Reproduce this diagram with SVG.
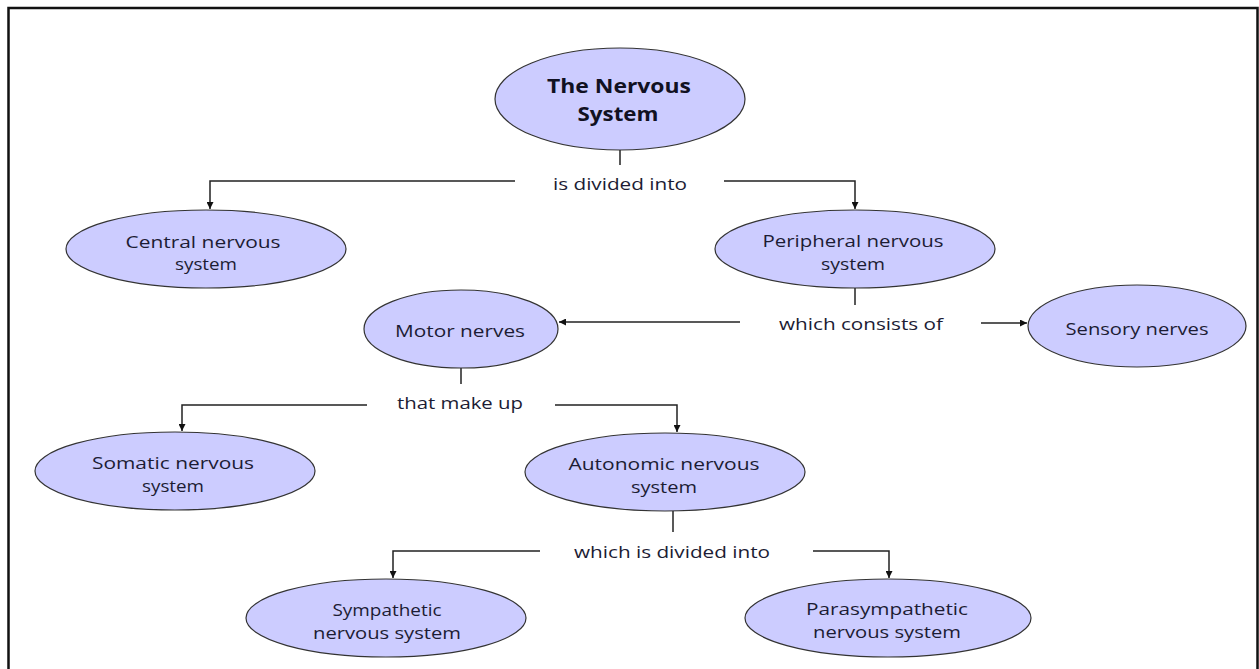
<svg xmlns="http://www.w3.org/2000/svg" width="1259" height="669" viewBox="0 0 1259 669">
<style>
.node ellipse{fill:#ccccff;stroke:#333333;stroke-width:1.2}
text{font-family:"Open Sans","Liberation Sans",sans-serif;font-size:16px;fill:#1c1c34;text-anchor:middle}
.title{font-weight:bold;font-size:20px;fill:#111122}
.conn path{fill:none;stroke:#222222;stroke-width:1.5}
</style>
<defs>
<marker id="arr" viewBox="0 0 10 10" refX="10" refY="5" markerWidth="7" markerHeight="7" orient="auto" markerUnits="userSpaceOnUse">
<path d="M0,0 L10,5 L0,10 Z" fill="#111111"/>
</marker>
</defs>
<rect x="8.5" y="8" width="1249" height="700" fill="#ffffff" stroke="#111111" stroke-width="2.5"/>
<g class="conn">
<path d="M620,150 V165"/>
<path d="M515,181 H210 V209" marker-end="url(#arr)"/>
<path d="M724,181 H855 V209" marker-end="url(#arr)"/>
<path d="M855,288 V305"/>
<path d="M740,322 H559" marker-end="url(#arr)"/>
<path d="M981,323 H1027" marker-end="url(#arr)"/>
<path d="M461,368 V384"/>
<path d="M367,405 H182 V431" marker-end="url(#arr)"/>
<path d="M555,405 H677 V432" marker-end="url(#arr)"/>
<path d="M673,511 V532"/>
<path d="M540,551 H393 V578" marker-end="url(#arr)"/>
<path d="M813,551 H889 V578" marker-end="url(#arr)"/>
</g>
<g id="labels">
<text x="620" y="190" textLength="134" lengthAdjust="spacingAndGlyphs">is divided into</text>
<text x="861" y="330" textLength="164" lengthAdjust="spacingAndGlyphs">which consists of</text>
<text x="460" y="409" textLength="126" lengthAdjust="spacingAndGlyphs">that make up</text>
<text x="672" y="558" textLength="196" lengthAdjust="spacingAndGlyphs">which is divided into</text>
</g>
<g id="nervous-system" class="node">
<ellipse cx="620" cy="99" rx="125" ry="51"/>
<text class="title" x="619" y="93" textLength="144" lengthAdjust="spacingAndGlyphs">The Nervous</text>
<text class="title" x="618" y="121" textLength="81" lengthAdjust="spacingAndGlyphs">System</text>
</g>
<g id="central" class="node">
<ellipse cx="206" cy="249" rx="140" ry="39"/>
<text x="203" y="248" textLength="155" lengthAdjust="spacingAndGlyphs">Central nervous</text>
<text x="206" y="270" textLength="62" lengthAdjust="spacingAndGlyphs">system</text>
</g>
<g id="peripheral" class="node">
<ellipse cx="855" cy="249" rx="140" ry="39"/>
<text x="853" y="247" textLength="181" lengthAdjust="spacingAndGlyphs">Peripheral nervous</text>
<text x="853" y="270" textLength="64" lengthAdjust="spacingAndGlyphs">system</text>
</g>
<g id="motor" class="node">
<ellipse cx="461" cy="329" rx="97" ry="39"/>
<text x="460" y="337" textLength="130" lengthAdjust="spacingAndGlyphs">Motor nerves</text>
</g>
<g id="sensory" class="node">
<ellipse cx="1137" cy="326" rx="109" ry="41"/>
<text x="1137" y="335" textLength="143" lengthAdjust="spacingAndGlyphs">Sensory nerves</text>
</g>
<g id="somatic" class="node">
<ellipse cx="175" cy="471" rx="140" ry="39"/>
<text x="173" y="469" textLength="162" lengthAdjust="spacingAndGlyphs">Somatic nervous</text>
<text x="173" y="492" textLength="62" lengthAdjust="spacingAndGlyphs">system</text>
</g>
<g id="autonomic" class="node">
<ellipse cx="665" cy="472" rx="140" ry="39"/>
<text x="664" y="470" textLength="191" lengthAdjust="spacingAndGlyphs">Autonomic nervous</text>
<text x="664" y="493" textLength="66" lengthAdjust="spacingAndGlyphs">system</text>
</g>
<g id="sympathetic" class="node">
<ellipse cx="386" cy="618" rx="140" ry="39"/>
<text x="387" y="616" textLength="109" lengthAdjust="spacingAndGlyphs">Sympathetic</text>
<text x="387" y="639" textLength="148" lengthAdjust="spacingAndGlyphs">nervous system</text>
</g>
<g id="parasympathetic" class="node">
<ellipse cx="888" cy="618" rx="143" ry="39"/>
<text x="887" y="615" textLength="162" lengthAdjust="spacingAndGlyphs">Parasympathetic</text>
<text x="887" y="638" textLength="148" lengthAdjust="spacingAndGlyphs">nervous system</text>
</g>
</svg>
